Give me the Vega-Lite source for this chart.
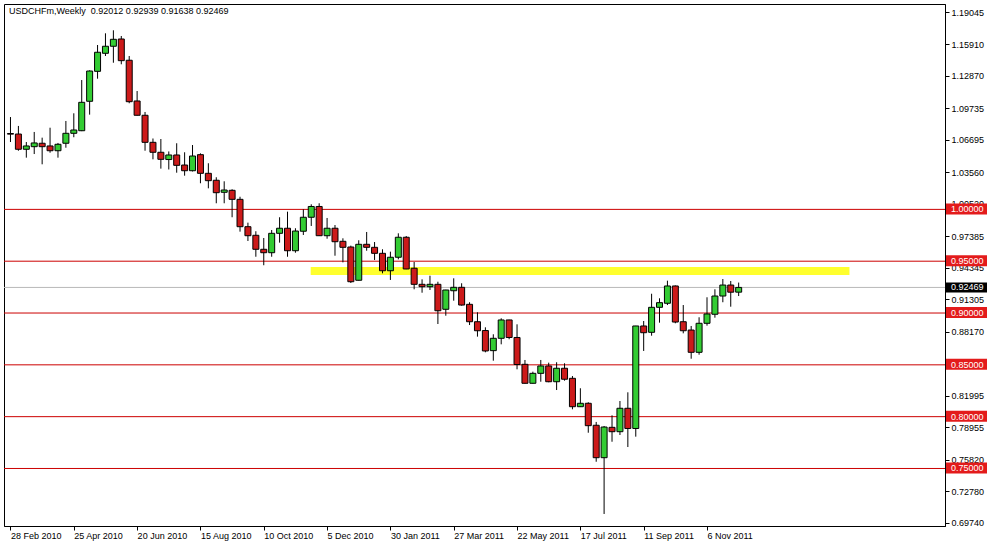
{
  "$schema": "https://vega.github.io/schema/vega-lite/v6.json",
  "width": 941,
  "height": 522,
  "autosize": {"type": "none"},
  "padding": {"left": 4, "top": 4, "right": 42, "bottom": 20},
  "background": "white",
  "title": {
    "text": "USDCHFm,Weekly\u00a0\u00a00.92012 0.92939 0.91638 0.92469",
    "anchor": "start",
    "frame": "group",
    "offset": -12,
    "dx": 5,
    "font": "Liberation Sans",
    "fontSize": 9,
    "fontWeight": "normal",
    "color": "black"
  },
  "config": {
    "view": {"stroke": "black", "strokeWidth": 1},
    "font": "Liberation Sans",
    "axis": {"labelOverlap": false, "labelFlush": false, "labelBound": false, "grid": false, "title": null,
             "tickColor": "black", "domainColor": "black", "labelColor": "black",
             "labelFont": "Liberation Sans", "labelFontSize": 9, "tickSize": 4},
    "axisY": {"labelPadding": 2},
    "axisX": {"labelPadding": 1, "labelAlign": "left", "labelBaseline": "top"}
  },
  "datasets": {
    "candles": [
      {"d":"2010-02-28","o":1.0732,"h":1.0891,"l":1.0650,"c":1.0726},
      {"d":"2010-03-07","o":1.0727,"h":1.0805,"l":1.0566,"c":1.0580},
      {"d":"2010-03-14","o":1.0580,"h":1.0650,"l":1.0499,"c":1.0612},
      {"d":"2010-03-21","o":1.0605,"h":1.0747,"l":1.0534,"c":1.0641},
      {"d":"2010-03-28","o":1.0638,"h":1.0692,"l":1.0435,"c":1.0605},
      {"d":"2010-04-04","o":1.0612,"h":1.0788,"l":1.0547,"c":1.0566},
      {"d":"2010-04-11","o":1.0566,"h":1.0641,"l":1.0499,"c":1.0628},
      {"d":"2010-04-18","o":1.0638,"h":1.0853,"l":1.0595,"c":1.0734},
      {"d":"2010-04-25","o":1.0734,"h":1.0927,"l":1.0696,"c":1.0766},
      {"d":"2010-05-02","o":1.0759,"h":1.1248,"l":1.0755,"c":1.1033},
      {"d":"2010-05-09","o":1.1043,"h":1.1342,"l":1.0914,"c":1.1335},
      {"d":"2010-05-16","o":1.1332,"h":1.1586,"l":1.1261,"c":1.1516},
      {"d":"2010-05-23","o":1.1506,"h":1.1699,"l":1.1480,"c":1.1574},
      {"d":"2010-05-30","o":1.1574,"h":1.1728,"l":1.1415,"c":1.1641},
      {"d":"2010-06-06","o":1.1644,"h":1.1673,"l":1.1400,"c":1.1435},
      {"d":"2010-06-13","o":1.1439,"h":1.1480,"l":1.1024,"c":1.1039},
      {"d":"2010-06-20","o":1.1046,"h":1.1142,"l":1.0906,"c":1.0908},
      {"d":"2010-06-27","o":1.0908,"h":1.0940,"l":1.0566,"c":1.0647},
      {"d":"2010-07-04","o":1.0647,"h":1.0684,"l":1.0483,"c":1.0551},
      {"d":"2010-07-11","o":1.0551,"h":1.0679,"l":1.0393,"c":1.0483},
      {"d":"2010-07-18","o":1.0481,"h":1.0559,"l":1.0385,"c":1.0525},
      {"d":"2010-07-25","o":1.0525,"h":1.0638,"l":1.0354,"c":1.0425},
      {"d":"2010-08-01","o":1.0428,"h":1.0551,"l":1.0325,"c":1.0373},
      {"d":"2010-08-08","o":1.0373,"h":1.0621,"l":1.0366,"c":1.0515},
      {"d":"2010-08-15","o":1.0528,"h":1.0541,"l":1.0252,"c":1.0348},
      {"d":"2010-08-22","o":1.0348,"h":1.0445,"l":1.0203,"c":1.0277},
      {"d":"2010-08-29","o":1.0281,"h":1.0310,"l":1.0059,"c":1.0161},
      {"d":"2010-09-05","o":1.0165,"h":1.0271,"l":1.0059,"c":1.0187},
      {"d":"2010-09-12","o":1.0184,"h":1.0194,"l":0.9924,"c":1.0097},
      {"d":"2010-09-19","o":1.0097,"h":1.0122,"l":0.9785,"c":0.9833},
      {"d":"2010-09-26","o":0.9833,"h":0.9872,"l":0.9695,"c":0.9746},
      {"d":"2010-10-03","o":0.9750,"h":0.9789,"l":0.9543,"c":0.9615},
      {"d":"2010-10-10","o":0.9615,"h":0.9724,"l":0.9461,"c":0.9582},
      {"d":"2010-10-17","o":0.9582,"h":0.9801,"l":0.9543,"c":0.9769},
      {"d":"2010-10-24","o":0.9769,"h":0.9924,"l":0.9679,"c":0.9818},
      {"d":"2010-10-31","o":0.9818,"h":0.9978,"l":0.9543,"c":0.9601},
      {"d":"2010-11-07","o":0.9601,"h":0.9818,"l":0.9582,"c":0.9791},
      {"d":"2010-11-14","o":0.9789,"h":1.0001,"l":0.9753,"c":0.9924},
      {"d":"2010-11-21","o":0.9924,"h":1.0049,"l":0.9840,"c":1.0028},
      {"d":"2010-11-28","o":1.0028,"h":1.0059,"l":0.9744,"c":0.9746},
      {"d":"2010-12-05","o":0.9746,"h":0.9917,"l":0.9717,"c":0.9818},
      {"d":"2010-12-12","o":0.9818,"h":0.9849,"l":0.9553,"c":0.9688},
      {"d":"2010-12-19","o":0.9692,"h":0.9721,"l":0.9489,"c":0.9634},
      {"d":"2010-12-26","o":0.9637,"h":0.9650,"l":0.9290,"c":0.9302},
      {"d":"2011-01-02","o":0.9316,"h":0.9702,"l":0.9314,"c":0.9663},
      {"d":"2011-01-09","o":0.9663,"h":0.9782,"l":0.9601,"c":0.9634},
      {"d":"2011-01-16","o":0.9634,"h":0.9685,"l":0.9512,"c":0.9576},
      {"d":"2011-01-23","o":0.9576,"h":0.9615,"l":0.9383,"c":0.9408},
      {"d":"2011-01-30","o":0.9408,"h":0.9592,"l":0.9319,"c":0.9538},
      {"d":"2011-02-06","o":0.9538,"h":0.9769,"l":0.9518,"c":0.9731},
      {"d":"2011-02-13","o":0.9731,"h":0.9743,"l":0.9423,"c":0.9425},
      {"d":"2011-02-20","o":0.9432,"h":0.9492,"l":0.9229,"c":0.9277},
      {"d":"2011-02-27","o":0.9277,"h":0.9325,"l":0.9196,"c":0.9254},
      {"d":"2011-03-06","o":0.9254,"h":0.9360,"l":0.9222,"c":0.9277},
      {"d":"2011-03-13","o":0.9277,"h":0.9302,"l":0.8894,"c":0.9022},
      {"d":"2011-03-20","o":0.9036,"h":0.9224,"l":0.8974,"c":0.9222},
      {"d":"2011-03-27","o":0.9215,"h":0.9335,"l":0.9119,"c":0.9248},
      {"d":"2011-04-03","o":0.9248,"h":0.9287,"l":0.9071,"c":0.9077},
      {"d":"2011-04-10","o":0.9084,"h":0.9104,"l":0.8884,"c":0.8916},
      {"d":"2011-04-17","o":0.8916,"h":0.9007,"l":0.8772,"c":0.8829},
      {"d":"2011-04-24","o":0.8831,"h":0.8862,"l":0.8621,"c":0.8634},
      {"d":"2011-05-01","o":0.8637,"h":0.8795,"l":0.8540,"c":0.8756},
      {"d":"2011-05-08","o":0.8756,"h":0.8949,"l":0.8698,"c":0.8933},
      {"d":"2011-05-15","o":0.8933,"h":0.8935,"l":0.8747,"c":0.8764},
      {"d":"2011-05-22","o":0.8764,"h":0.8891,"l":0.8457,"c":0.8503},
      {"d":"2011-05-29","o":0.8505,"h":0.8547,"l":0.8320,"c":0.8322},
      {"d":"2011-06-05","o":0.8322,"h":0.8434,"l":0.8320,"c":0.8418},
      {"d":"2011-06-12","o":0.8418,"h":0.8547,"l":0.8337,"c":0.8489},
      {"d":"2011-06-19","o":0.8489,"h":0.8521,"l":0.8332,"c":0.8337},
      {"d":"2011-06-26","o":0.8337,"h":0.8525,"l":0.8257,"c":0.8467},
      {"d":"2011-07-03","o":0.8467,"h":0.8515,"l":0.8347,"c":0.8361},
      {"d":"2011-07-10","o":0.8370,"h":0.8392,"l":0.8071,"c":0.8096},
      {"d":"2011-07-17","o":0.8096,"h":0.8274,"l":0.8094,"c":0.8129},
      {"d":"2011-07-24","o":0.8129,"h":0.8139,"l":0.7845,"c":0.7913},
      {"d":"2011-07-31","o":0.7917,"h":0.7949,"l":0.7565,"c":0.7604},
      {"d":"2011-08-07","o":0.7604,"h":0.7910,"l":0.7061,"c":0.7900},
      {"d":"2011-08-14","o":0.7897,"h":0.8013,"l":0.7758,"c":0.7855},
      {"d":"2011-08-21","o":0.7855,"h":0.8151,"l":0.7823,"c":0.8081},
      {"d":"2011-08-28","o":0.8081,"h":0.8235,"l":0.7707,"c":0.7886},
      {"d":"2011-09-04","o":0.7886,"h":0.8876,"l":0.7807,"c":0.8875},
      {"d":"2011-09-11","o":0.8875,"h":0.8923,"l":0.8634,"c":0.8810},
      {"d":"2011-09-18","o":0.8814,"h":0.9186,"l":0.8781,"c":0.9055},
      {"d":"2011-09-25","o":0.9055,"h":0.9142,"l":0.8907,"c":0.9100},
      {"d":"2011-10-02","o":0.9094,"h":0.9312,"l":0.9077,"c":0.9261},
      {"d":"2011-10-09","o":0.9261,"h":0.9266,"l":0.8901,"c":0.8913},
      {"d":"2011-10-16","o":0.8916,"h":0.9077,"l":0.8804,"c":0.8829},
      {"d":"2011-10-23","o":0.8836,"h":0.8875,"l":0.8559,"c":0.8621},
      {"d":"2011-10-30","o":0.8621,"h":0.8959,"l":0.8598,"c":0.8901},
      {"d":"2011-11-06","o":0.8901,"h":0.9152,"l":0.8878,"c":0.8991},
      {"d":"2011-11-13","o":0.8988,"h":0.9229,"l":0.8955,"c":0.9164},
      {"d":"2011-11-20","o":0.9164,"h":0.9328,"l":0.9104,"c":0.9270},
      {"d":"2011-11-27","o":0.9270,"h":0.9309,"l":0.9061,"c":0.9201},
      {"d":"2011-12-04","o":0.92012,"h":0.92939,"l":0.91638,"c":0.92469}
    ],
    "levels": [
      {"p": 1.0, "t": "1.00000"},
      {"p": 0.95, "t": "0.95000"},
      {"p": 0.9, "t": "0.90000"},
      {"p": 0.85, "t": "0.85000"},
      {"p": 0.8, "t": "0.80000"},
      {"p": 0.75, "t": "0.75000"}
    ],
    "current": [{"p": 0.92469, "t": "0.92469"}],
    "band": [{"d1": "2010-11-20T12:00:00Z", "d2": "2012-03-11T00:00:00Z", "y1": 0.9367, "y2": 0.9444}]
  },
  "layer": [
    {
      "data": {"name": "band"},
      "mark": {"type": "rect", "color": "#ffff2e"},
      "encoding": {
        "x": {"field": "d1", "type": "temporal", "title": null,
              "scale": {"type": "utc", "domain": [{"year": 2010, "month": 2, "date": 26, "hours": 16, "minutes": 30, "utc": true}, {"year": 2012, "month": 5, "date": 30, "hours": 1, "minutes": 30, "utc": true}]},
              "axis": {"labelOverlap": false, "labelExpr": "utcFormat(datum.value, '%-d %b %Y')",
                "values": [
                  {"year": 2010, "month": 2, "date": 28, "utc": true},
                  {"year": 2010, "month": 4, "date": 25, "utc": true},
                  {"year": 2010, "month": 6, "date": 20, "utc": true},
                  {"year": 2010, "month": 8, "date": 15, "utc": true},
                  {"year": 2010, "month": 10, "date": 10, "utc": true},
                  {"year": 2010, "month": 12, "date": 5, "utc": true},
                  {"year": 2011, "month": 1, "date": 30, "utc": true},
                  {"year": 2011, "month": 3, "date": 27, "utc": true},
                  {"year": 2011, "month": 5, "date": 22, "utc": true},
                  {"year": 2011, "month": 7, "date": 17, "utc": true},
                  {"year": 2011, "month": 9, "date": 11, "utc": true},
                  {"year": 2011, "month": 11, "date": 6, "utc": true}
                ]}},
        "x2": {"field": "d2"},
        "y": {"field": "y1", "type": "quantitative", "title": null,
              "scale": {"domain": [0.6945, 1.19817], "nice": false, "zero": false},
              "axis": {"orient": "right", "format": ".5f", "labelOverlap": false, "tickCount": 17,
                "values": [1.19045, 1.1591, 1.1287, 1.09735, 1.06695, 1.0356, 1.0052, 0.97385, 0.94345, 0.91305, 0.8817, 0.8513, 0.81995, 0.78955, 0.7582, 0.7278, 0.6974]}},
        "y2": {"field": "y2"}
      }
    },
    {
      "data": {"name": "current"},
      "mark": {"type": "rule", "color": "#b8b8b8", "strokeWidth": 1},
      "encoding": {
        "y": {"field": "p", "type": "quantitative", "title": null,
              "scale": {"domain": [0.6945, 1.19817], "nice": false, "zero": false},
              "axis": {"orient": "right", "format": ".5f", "labelOverlap": false, "tickCount": 17,
                "values": [1.19045, 1.1591, 1.1287, 1.09735, 1.06695, 1.0356, 1.0052, 0.97385, 0.94345, 0.91305, 0.8817, 0.8513, 0.81995, 0.78955, 0.7582, 0.7278, 0.6974]}}
      }
    },
    {
      "data": {"name": "levels"},
      "mark": {"type": "rule", "color": "#cc0000", "strokeWidth": 1},
      "encoding": {
        "y": {"field": "p", "type": "quantitative", "title": null,
              "scale": {"domain": [0.6945, 1.19817], "nice": false, "zero": false},
              "axis": {"orient": "right", "format": ".5f", "labelOverlap": false, "tickCount": 17,
                "values": [1.19045, 1.1591, 1.1287, 1.09735, 1.06695, 1.0356, 1.0052, 0.97385, 0.94345, 0.91305, 0.8817, 0.8513, 0.81995, 0.78955, 0.7582, 0.7278, 0.6974]}}
      }
    },
    {
      "data": {"name": "candles"},
      "mark": {"type": "rule", "color": "black", "strokeWidth": 1},
      "encoding": {
        "x": {"field": "d", "type": "temporal", "title": null,
              "scale": {"type": "utc", "domain": [{"year": 2010, "month": 2, "date": 26, "hours": 16, "minutes": 30, "utc": true}, {"year": 2012, "month": 5, "date": 30, "hours": 1, "minutes": 30, "utc": true}]},
              "axis": {"labelOverlap": false, "labelExpr": "utcFormat(datum.value, '%-d %b %Y')",
                "values": [
                  {"year": 2010, "month": 2, "date": 28, "utc": true},
                  {"year": 2010, "month": 4, "date": 25, "utc": true},
                  {"year": 2010, "month": 6, "date": 20, "utc": true},
                  {"year": 2010, "month": 8, "date": 15, "utc": true},
                  {"year": 2010, "month": 10, "date": 10, "utc": true},
                  {"year": 2010, "month": 12, "date": 5, "utc": true},
                  {"year": 2011, "month": 1, "date": 30, "utc": true},
                  {"year": 2011, "month": 3, "date": 27, "utc": true},
                  {"year": 2011, "month": 5, "date": 22, "utc": true},
                  {"year": 2011, "month": 7, "date": 17, "utc": true},
                  {"year": 2011, "month": 9, "date": 11, "utc": true},
                  {"year": 2011, "month": 11, "date": 6, "utc": true}
                ]}},
        "y": {"field": "l", "type": "quantitative", "title": null,
              "scale": {"domain": [0.6945, 1.19817], "nice": false, "zero": false},
              "axis": {"orient": "right", "format": ".5f", "labelOverlap": false, "tickCount": 17,
                "values": [1.19045, 1.1591, 1.1287, 1.09735, 1.06695, 1.0356, 1.0052, 0.97385, 0.94345, 0.91305, 0.8817, 0.8513, 0.81995, 0.78955, 0.7582, 0.7278, 0.6974]}},
        "y2": {"field": "h"}
      }
    },
    {
      "data": {"name": "candles"},
      "mark": {"type": "bar", "width": 6, "stroke": "black", "strokeWidth": 1},
      "encoding": {
        "x": {"field": "d", "type": "temporal", "title": null,
              "scale": {"type": "utc", "domain": [{"year": 2010, "month": 2, "date": 26, "hours": 16, "minutes": 30, "utc": true}, {"year": 2012, "month": 5, "date": 30, "hours": 1, "minutes": 30, "utc": true}]},
              "axis": {"labelOverlap": false, "labelExpr": "utcFormat(datum.value, '%-d %b %Y')",
                "values": [
                  {"year": 2010, "month": 2, "date": 28, "utc": true},
                  {"year": 2010, "month": 4, "date": 25, "utc": true},
                  {"year": 2010, "month": 6, "date": 20, "utc": true},
                  {"year": 2010, "month": 8, "date": 15, "utc": true},
                  {"year": 2010, "month": 10, "date": 10, "utc": true},
                  {"year": 2010, "month": 12, "date": 5, "utc": true},
                  {"year": 2011, "month": 1, "date": 30, "utc": true},
                  {"year": 2011, "month": 3, "date": 27, "utc": true},
                  {"year": 2011, "month": 5, "date": 22, "utc": true},
                  {"year": 2011, "month": 7, "date": 17, "utc": true},
                  {"year": 2011, "month": 9, "date": 11, "utc": true},
                  {"year": 2011, "month": 11, "date": 6, "utc": true}
                ]}},
        "y": {"field": "o", "type": "quantitative", "title": null,
              "scale": {"domain": [0.6945, 1.19817], "nice": false, "zero": false},
              "axis": {"orient": "right", "format": ".5f", "labelOverlap": false, "tickCount": 17,
                "values": [1.19045, 1.1591, 1.1287, 1.09735, 1.06695, 1.0356, 1.0052, 0.97385, 0.94345, 0.91305, 0.8817, 0.8513, 0.81995, 0.78955, 0.7582, 0.7278, 0.6974]}},
        "y2": {"field": "c"},
        "color": {"condition": {"test": "datum.c >= datum.o", "value": "#33cc33"}, "value": "#cc1a1a"}
      }
    },
    {
      "data": {"name": "levels"},
      "mark": {"type": "rect", "color": "#e31b1b", "xOffset": 1, "x2Offset": 42, "yOffset": -6, "y2Offset": 5},
      "encoding": {
        "x": {"value": "width"},
        "x2": {"value": "width"},
        "y": {"field": "p", "type": "quantitative", "title": null,
              "scale": {"domain": [0.6945, 1.19817], "nice": false, "zero": false},
              "axis": {"orient": "right", "format": ".5f", "labelOverlap": false, "tickCount": 17,
                "values": [1.19045, 1.1591, 1.1287, 1.09735, 1.06695, 1.0356, 1.0052, 0.97385, 0.94345, 0.91305, 0.8817, 0.8513, 0.81995, 0.78955, 0.7582, 0.7278, 0.6974]}},
        "y2": {"field": "p"}
      }
    },
    {
      "data": {"name": "current"},
      "mark": {"type": "rect", "color": "black", "xOffset": 1, "x2Offset": 42, "yOffset": -5, "y2Offset": 5},
      "encoding": {
        "x": {"value": "width"},
        "x2": {"value": "width"},
        "y": {"field": "p", "type": "quantitative", "title": null,
              "scale": {"domain": [0.6945, 1.19817], "nice": false, "zero": false},
              "axis": {"orient": "right", "format": ".5f", "labelOverlap": false, "tickCount": 17,
                "values": [1.19045, 1.1591, 1.1287, 1.09735, 1.06695, 1.0356, 1.0052, 0.97385, 0.94345, 0.91305, 0.8817, 0.8513, 0.81995, 0.78955, 0.7582, 0.7278, 0.6974]}},
        "y2": {"field": "p"}
      }
    },
    {
      "data": {"name": "levels"},
      "mark": {"type": "text", "color": "white", "align": "left", "baseline": "middle", "xOffset": 6, "font": "Liberation Sans", "fontSize": 9},
      "encoding": {
        "x": {"value": "width"},
        "y": {"field": "p", "type": "quantitative", "title": null,
              "scale": {"domain": [0.6945, 1.19817], "nice": false, "zero": false},
              "axis": {"orient": "right", "format": ".5f", "labelOverlap": false, "tickCount": 17,
                "values": [1.19045, 1.1591, 1.1287, 1.09735, 1.06695, 1.0356, 1.0052, 0.97385, 0.94345, 0.91305, 0.8817, 0.8513, 0.81995, 0.78955, 0.7582, 0.7278, 0.6974]}},
        "text": {"field": "t"}
      }
    },
    {
      "data": {"name": "current"},
      "mark": {"type": "text", "color": "white", "align": "left", "baseline": "middle", "xOffset": 6, "font": "Liberation Sans", "fontSize": 9},
      "encoding": {
        "x": {"value": "width"},
        "y": {"field": "p", "type": "quantitative", "title": null,
              "scale": {"domain": [0.6945, 1.19817], "nice": false, "zero": false},
              "axis": {"orient": "right", "format": ".5f", "labelOverlap": false, "tickCount": 17,
                "values": [1.19045, 1.1591, 1.1287, 1.09735, 1.06695, 1.0356, 1.0052, 0.97385, 0.94345, 0.91305, 0.8817, 0.8513, 0.81995, 0.78955, 0.7582, 0.7278, 0.6974]}},
        "text": {"field": "t"}
      }
    }
  ]
}
